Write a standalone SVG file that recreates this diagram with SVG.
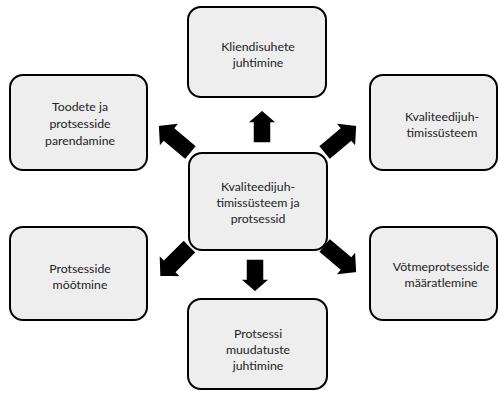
<svg xmlns="http://www.w3.org/2000/svg" width="500" height="394" viewBox="0 0 500 394">
  <style>
    .box { fill: #eeeeee; stroke: #000000; stroke-width: 2; }
    .lbl { font-family: Lato, "Noto Sans", "DejaVu Sans", sans-serif; font-size: 12.3px; fill: #222222; text-anchor: middle; }
    .arrow { fill: #000000; stroke: #ffffff; stroke-width: 1.5; stroke-linejoin: miter; }
  </style>
  <defs>
    <!-- block arrow pointing along +x, tail at origin -->
    <path id="blk" d="M0,-9 H28 V-16 L43,0 L28,16 V9 H0 Z"/>
    <path id="blkShort" d="M0,-9 H20 V-15 L33,0 L20,15 V9 H0 Z"/>
  </defs>
  <rect width="500" height="394" fill="#ffffff"/>

  <g id="connectors">
    <use href="#blkShort" class="arrow" transform="translate(262,143) rotate(-90)"/>
    <use href="#blkShort" class="arrow" transform="translate(255,259) rotate(90)"/>
    <use href="#blk" class="arrow" transform="translate(191,153) rotate(-140)"/>
    <use href="#blk" class="arrow" transform="translate(324,153) rotate(-40)"/>
    <use href="#blk" class="arrow" transform="translate(190,246) rotate(135)"/>
    <use href="#blk" class="arrow" transform="translate(324,245) rotate(40)"/>
  </g>

  <g id="center">
    <rect class="box" x="189" y="153" width="138" height="97" rx="13"/>
    <text class="lbl" x="258" y="191">Kvaliteedijuh-</text>
    <text class="lbl" x="258" y="207">timissüsteem ja</text>
    <text class="lbl" x="258" y="223">protsessid</text>
  </g>

  <g id="top">
    <rect class="box" x="188" y="7" width="138" height="90" rx="13"/>
    <text class="lbl" x="258" y="51">Kliendisuhete</text>
    <text class="lbl" x="258" y="67">juhtimine</text>
  </g>

  <g id="upperLeft">
    <rect class="box" x="10" y="75" width="137" height="95" rx="13"/>
    <text class="lbl" x="80" y="111">Toodete ja</text>
    <text class="lbl" x="80" y="128">protsesside</text>
    <text class="lbl" x="80" y="145">parendamine</text>
  </g>

  <g id="upperRight">
    <rect class="box" x="370" y="75" width="127" height="95" rx="13"/>
    <text class="lbl" x="442" y="121">Kvaliteedijuh-</text>
    <text class="lbl" x="442" y="137">timissüsteem</text>
  </g>

  <g id="lowerLeft">
    <rect class="box" x="10" y="227" width="137" height="93" rx="13"/>
    <text class="lbl" x="80" y="273">Protsesside</text>
    <text class="lbl" x="80" y="289">mõõtmine</text>
  </g>

  <g id="lowerRight">
    <rect class="box" x="370" y="227" width="127" height="93" rx="13"/>
    <text class="lbl" x="441" y="271">Võtmeprotsesside</text>
    <text class="lbl" x="441" y="287">määratlemine</text>
  </g>

  <g id="bottom">
    <rect class="box" x="188" y="299" width="139" height="90" rx="13"/>
    <text class="lbl" x="258" y="338">Protsessi</text>
    <text class="lbl" x="258" y="354">muudatuste</text>
    <text class="lbl" x="258" y="370">juhtimine</text>
  </g>
</svg>
